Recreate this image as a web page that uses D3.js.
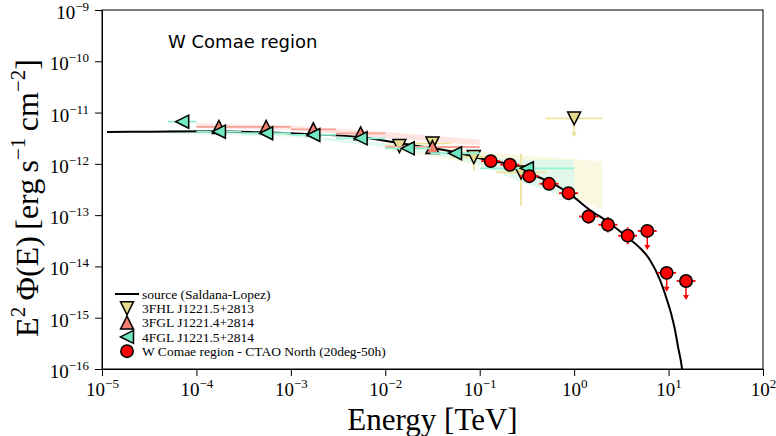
<!DOCTYPE html>
<html><head><meta charset="utf-8">
<script src="https://cdn.jsdelivr.net/npm/d3@7"></script>
<style>body{margin:0;background:#fff}svg{display:block}</style>
</head><body><svg id="c" width="776" height="436"></svg>
<script>
// ---------- DATA ----------
const srcE = [1.13e-5,3.22e-5,1.39e-4,4.71e-4,1.60e-3,5.66e-3,1.43e-2,3.20e-2,6.18e-2,0.129,0.209,0.333,0.542,0.861,1.47,2.28,3.63,4.98,6.35,8.11,9.62,10.6,11.7,12.6,13.9,14.6];
const srcF = [4.18e-12,4.24e-12,4.31e-12,4.12e-12,3.77e-12,3.30e-12,2.52e-12,2.01e-12,1.61e-12,1.15e-12,9.7e-13,6.55e-13,4.49e-13,2.75e-13,1.26e-13,7.36e-14,3.75e-14,2.29e-14,1.34e-14,5.44e-15,2.22e-15,1.24e-15,5.77e-16,2.69e-16,1.0e-16,4.0e-17];

const fhlE    = [0.0141,0.0316,0.0866,0.274,1.0];
const fhlEmin = [0.01,0.02,0.05,0.15,0.5];
const fhlEmax = [0.02,0.05,0.15,0.5,2.0];
const fhlF    = [2.23e-12,2.5e-12,1.36e-12,6.8e-13,7.7e-12];
const fhlFlo  = [1.95e-12,2.2e-12,7.4e-13,1.55e-13,null];
const fhlFhi  = [2.5e-12,2.8e-12,1.6e-12,1.58e-12,null];
const fhlUL   = [false,false,false,false,true];
const fhlBandE  = [0.01,0.03,0.1,0.3,1,2];
const fhlBandLo = [1.9e-12,1.4e-12,9.5e-13,4.9e-13,2.1e-13,1.26e-13];
const fhlBandHi = [2.9e-12,2.3e-12,1.7e-12,1.45e-12,1.25e-12,1.13e-12];

const fgl3E    = [1.73e-4,5.48e-4,1.73e-3,5.48e-3,0.0316];
const fgl3Emin = [1e-4,3e-4,1e-3,3e-3,0.01];
const fgl3Emax = [3e-4,1e-3,3e-3,0.01,0.1];
const fgl3F    = [5.24e-12,5.24e-12,4.72e-12,3.94e-12,2.13e-12];
const fgl3BandE  = [1e-4,1e-3,1e-2,0.1];
const fgl3BandLo = [5.0e-12,4.6e-12,3.2e-12,2.3e-12];
const fgl3BandHi = [6.2e-12,5.6e-12,4.2e-12,3.0e-12];

const fgl4E    = [7.07e-5,1.73e-4,5.48e-4,1.73e-3,5.48e-3,1.73e-2,5.48e-2,0.316];
const fgl4Emin = [5e-5,1e-4,3e-4,1e-3,3e-3,1e-2,3e-2,0.1];
const fgl4Emax = [1e-4,3e-4,1e-3,3e-3,1e-2,3e-2,0.1,1];
const fgl4F    = [6.64e-12,4.24e-12,3.95e-12,3.66e-12,3.15e-12,2.01e-12,1.61e-12,8.2e-13];
const fgl4BandE  = [5e-5,1e-3,1e-2,0.05,0.1,0.3,1];
const fgl4BandLo = [3.9e-12,3.4e-12,2.1e-12,1.3e-12,9.5e-13,4.2e-13,2.0e-13];
const fgl4BandHi = [4.6e-12,3.8e-12,2.5e-12,1.65e-12,1.35e-12,1.2e-12,1.19e-12];

const ctaoE    = [0.131,0.209,0.335,0.542,0.871,1.42,2.28,3.69,5.95,9.55,15.3];
const ctaoEmin = [0.104,0.166,0.266,0.430,0.692,1.13,1.81,2.93,4.73,7.59,12.2];
const ctaoEmax = [0.165,0.263,0.422,0.683,1.10,1.79,2.87,4.65,7.49,12.0,19.3];
const ctaoF    = [1.13e-12,9.6e-13,5.75e-13,4.08e-13,2.68e-13,9.4e-14,6.5e-14,3.98e-14,4.92e-14,7.5e-15,5.2e-15];
const ctaoFlo  = [1.0e-12,8.4e-13,4.9e-13,3.4e-13,2.15e-13,6.8e-14,4.6e-14,2.7e-14,null,null,null];
const ctaoFhi  = [1.28e-12,1.1e-12,6.8e-13,4.9e-13,3.35e-13,1.3e-13,9.2e-14,5.8e-14,null,null,null];
const ctaoUL   = [false,false,false,false,false,false,false,false,true,true,true];

const xTickExp = [-5,-4,-3,-2,-1,0,1,2];
const yTickExp = [-16,-15,-14,-13,-12,-11,-10,-9];
const legendLabels = ["source (Saldana-Lopez)","3FHL J1221.5+2813","3FGL J1221.4+2814","4FGL J1221.5+2814","W Comae region - CTAO North (20deg-50h)"];
const titleText = "W Comae region";

// ---------- STYLE ----------
const C = {fhl:"#e6da8e", fhlBar:"#efe39a", fhlBand:"#fbf8e2",
           fgl3:"#f27e6e", fgl3Bar:"#f9a296", fgl3Band:"#fde0dd",
           fgl4:"#72e8c2", fgl4Bar:"#95f2d4", fgl4Band:"#dcf7ea",
           ctao:"#ff0000"};
const ARROW_DEX = 0.37;

const svg = d3.select("#c");
const L=102, R=763, T=10, B=369;
const x = d3.scaleLog().domain([1e-5,1e2]).range([L,R]);
const y = d3.scaleLog().domain([1e-16,1e-9]).range([B,T]);

svg.append("defs").append("clipPath").attr("id","clip")
  .append("rect").attr("x",L).attr("y",T).attr("width",R-L).attr("height",B-T);
const plot = svg.append("g").attr("clip-path","url(#clip)");

// bands
function band(E,lo,hi,col,op){
  const area = d3.area().x((d,i)=>x(E[i])).y0((d,i)=>y(lo[i])).y1((d,i)=>y(hi[i]));
  plot.append("path").datum(E).attr("d",area).attr("fill",col).attr("opacity",op);
}
band(fhlBandE,fhlBandLo,fhlBandHi,C.fhlBand,1);
band(fgl4BandE,fgl4BandLo,fgl4BandHi,C.fgl4Band,0.85);
band(fgl3BandE,fgl3BandLo,fgl3BandHi,C.fgl3Band,0.85);

// source curve
plot.append("path").datum(srcE.map((e,i)=>[e,srcF[i]]))
  .attr("d",d3.line().x(d=>x(d[0])).y(d=>y(d[1])).curve(d3.curveMonotoneX))
  .attr("fill","none").attr("stroke","#000").attr("stroke-width",2);

// marker paths
const S=6.5;
const shapes = {
  down: `M${-S},${-S}L${S},${-S}L0,${S}Z`,
  up:   `M0,${-S}L${S},${S}L${-S},${S}Z`,
  left: `M${-S},0L${S},${-S}L${S},${S}Z`
};
function arrow(g,xx,Fv,col){
  const y0=y(Fv), y1=y(Fv/Math.pow(10,ARROW_DEX));
  g.append("line").attr("x1",xx).attr("x2",xx).attr("y1",y0).attr("y2",y1-3).attr("stroke",col).attr("stroke-width",1.5);
  g.append("path").attr("d",`M${xx-3},${y1-5}L${xx+3},${y1-5}L${xx},${y1}Z`).attr("fill",col);
}
function series(E,Emin,Emax,F,Flo,Fhi,UL,barCol,fill,shape){
  const g = plot.append("g");
  E.forEach((e,i)=>{
    g.append("line").attr("x1",x(Emin[i])).attr("x2",x(Emax[i])).attr("y1",y(F[i])).attr("y2",y(F[i]))
      .attr("stroke",barCol).attr("stroke-width",1.8);
    if(UL && UL[i]) arrow(g,x(e),F[i],barCol);
    else if(Flo && Flo[i]!=null)
      g.append("line").attr("x1",x(e)).attr("x2",x(e)).attr("y1",y(Flo[i])).attr("y2",y(Fhi[i]))
        .attr("stroke",barCol).attr("stroke-width",1.8);
  });
  E.forEach((e,i)=>{
    if(shape==="circle") g.append("circle").attr("cx",x(e)).attr("cy",y(F[i])).attr("r",6.2)
      .attr("fill",fill).attr("stroke","#000").attr("stroke-width",1.5);
    else g.append("path").attr("d",shapes[shape]).attr("transform",`translate(${x(e)},${y(F[i])})`)
      .attr("fill",fill).attr("stroke","#000").attr("stroke-width",1.5);
  });
}
series(fhlE,fhlEmin,fhlEmax,fhlF,fhlFlo,fhlFhi,fhlUL,C.fhlBar,C.fhl,"down");
series(fgl3E,fgl3Emin,fgl3Emax,fgl3F,null,null,null,C.fgl3Bar,C.fgl3,"up");
series(fgl4E,fgl4Emin,fgl4Emax,fgl4F,null,null,null,C.fgl4Bar,C.fgl4,"left");
series(ctaoE,ctaoEmin,ctaoEmax,ctaoF,ctaoFlo,ctaoFhi,ctaoUL,C.ctao,C.ctao,"circle");

// axes
const serif = "'Liberation Serif','DejaVu Serif',serif";
function minors(lo,hi){const a=[];for(let k=lo;k<hi;k++)for(let m=2;m<=9;m++)a.push(m*Math.pow(10,k));return a;}
const gx = svg.append("g").attr("transform",`translate(0,${B})`);
gx.call(d3.axisBottom(x).tickValues(minors(-5,2)).tickSize(3.5).tickFormat(()=>""));
gx.call(d3.axisBottom(x).tickValues(xTickExp.map(k=>Math.pow(10,k))).tickSize(7));
const gy = svg.append("g").attr("transform",`translate(${L},0)`);
gy.call(d3.axisLeft(y).tickValues(minors(-16,-9)).tickSize(3.5).tickFormat(()=>""));
gy.call(d3.axisLeft(y).tickValues(yTickExp.map(k=>Math.pow(10,k))).tickSize(7).tickPadding(6));
svg.selectAll(".domain").attr("stroke","#000");
svg.selectAll(".tick line").attr("stroke","#000").attr("stroke-width",1);
function supLabel(sel){
  sel.selectAll(".tick text").each(function(d){
    if(!this.textContent) return;
    const k = Math.round(Math.log10(d));
    const t = d3.select(this).text(null).attr("font-family",serif).attr("font-size",19).attr("fill","#000");
    t.append("tspan").text("10");
    t.append("tspan").attr("font-size",13).attr("dy",-8).text(k<0?"\u2212"+(-k):String(k));
  });
}
supLabel(gx); supLabel(gy);
gx.selectAll(".tick text").attr("y",27).attr("dy",0);
gy.selectAll(".tick text").attr("dy","0.45em");

// frame
svg.append("rect").attr("x",L).attr("y",T).attr("width",R-L).attr("height",B-T)
  .attr("fill","none").attr("stroke","#000").attr("stroke-width",1);

// axis titles
svg.append("text").attr("x",(L+R)/2).attr("y",430).attr("text-anchor","middle")
  .attr("font-family",serif).attr("font-size",31).text("Energy [TeV]");
const yl = svg.append("text").attr("transform","translate(38,198) rotate(-90)").attr("text-anchor","middle")
  .attr("font-family",serif).attr("font-size",32);
yl.append("tspan").text("E");
yl.append("tspan").attr("font-size",21).attr("dy",-13).text("2");
yl.append("tspan").attr("dy",13).text("\u2009\u03A6(E)\u2009[erg\u2009s");
yl.append("tspan").attr("font-size",21).attr("dy",-13).text("\u22121");
yl.append("tspan").attr("dy",13).text("\u2009cm");
yl.append("tspan").attr("font-size",21).attr("dy",-13).text("\u22122");
yl.append("tspan").attr("dy",13).text("]");

// title
svg.append("text").attr("x",168).attr("y",48).attr("font-family","'DejaVu Sans',sans-serif")
  .attr("font-size",18).text(titleText);

// legend
const lg = svg.append("g").attr("font-family",serif).attr("font-size",13.5);
const rowY = i => 294 + i*14.3;
lg.append("line").attr("x1",115).attr("x2",139).attr("y1",rowY(0)).attr("y2",rowY(0)).attr("stroke","#000").attr("stroke-width",2);
[["down",C.fhl],["up",C.fgl3],["left",C.fgl4]].forEach((s,i)=>{
  lg.append("path").attr("d",shapes[s[0]]).attr("transform",`translate(127,${rowY(i+1)})`)
    .attr("fill",s[1]).attr("stroke","#000").attr("stroke-width",1.5);
});
lg.append("circle").attr("cx",127).attr("cy",rowY(4)).attr("r",6.2).attr("fill",C.ctao).attr("stroke","#000").attr("stroke-width",1.5);
legendLabels.forEach((t,i)=>lg.append("text").attr("x",142).attr("y",rowY(i)).attr("dy","0.35em").text(t));
</script></body></html>
